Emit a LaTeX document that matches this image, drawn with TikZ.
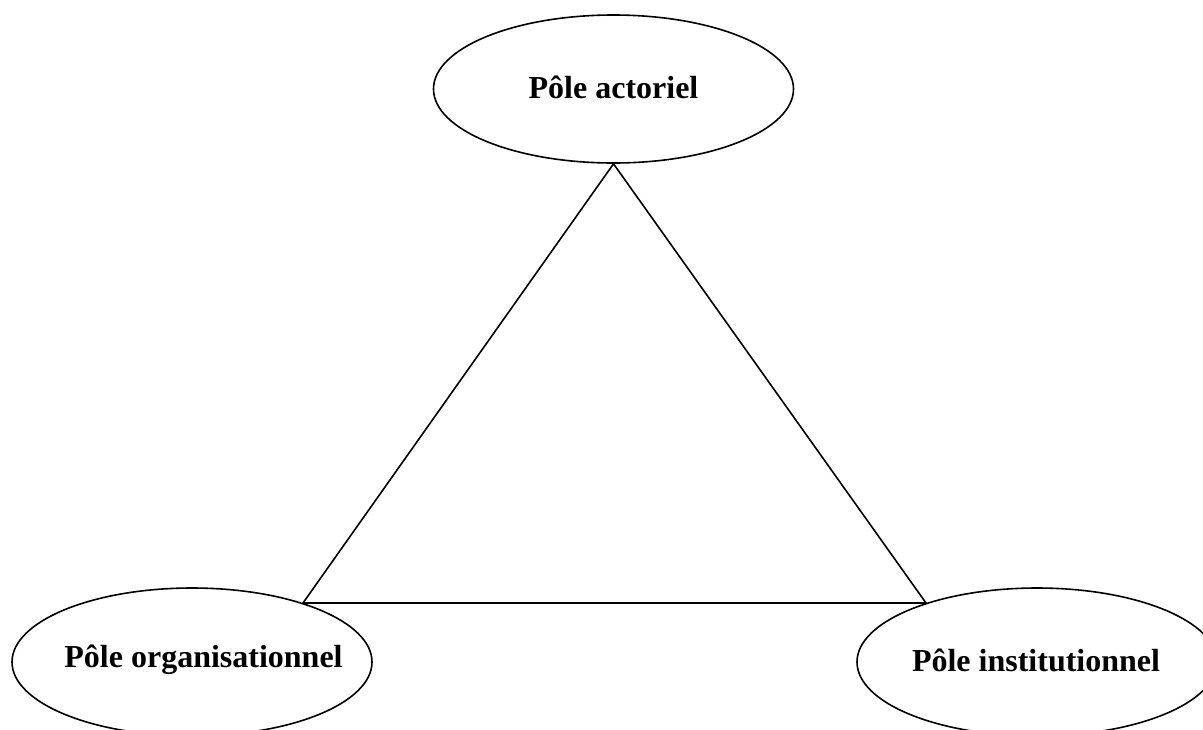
\documentclass[tikz,border=0pt]{standalone}
\usepackage{fontspec}
\setmainfont{Liberation Serif}
\usetikzlibrary{shapes.geometric}
\begin{document}
\begin{tikzpicture}[x=1pt,y=-1pt,
  pole/.style={draw, ellipse, line width=1.6pt, minimum width=360pt, minimum height=148pt, inner sep=0pt},
  poletext/.style={inner sep=0pt, font=\fontsize{32}{36}\selectfont\bfseries},
  edge/.style={line width=1.6pt}]
\useasboundingbox (0,0) rectangle (1203,729);
\clip (0,0) rectangle (1203,729);
\node[pole] (act) at (613.5,89) {};
\node[pole] (org) at (192,662) {};
\node[pole] (inst) at (1037,662) {};
\node[poletext] (actT) at (613.5,87) {Pôle actoriel};
\node[poletext] (orgT) at (203.5,660) {Pôle organisationnel};
\node[poletext] (instT) at (1036,660) {Pôle institutionnel};
\draw[edge] (act.south) -- (org.28) -- (inst.152) -- (act.south);
\end{tikzpicture}
\end{document}
